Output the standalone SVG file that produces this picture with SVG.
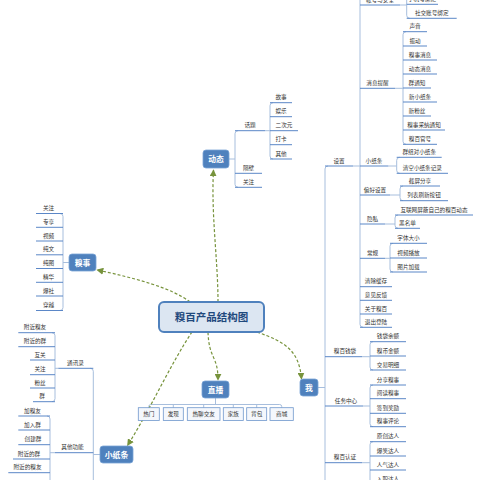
<svg xmlns="http://www.w3.org/2000/svg" width="480" height="480" viewBox="0 0 480 480">
<defs>
<style>
.t{font-family:"Noto Sans CJK SC","Noto Sans",sans-serif;font-size:5.6px;fill:#333;text-anchor:middle}
.u{stroke:#5b87c7;stroke-width:1;fill:none}
.c{stroke:#a7bedd;stroke-width:1;fill:none}
.nb{fill:#4f81bd;stroke:#7aa3d6;stroke-width:0.8}
.nt{font-family:"Noto Sans CJK SC","Noto Sans",sans-serif;font-size:7.8px;font-weight:bold;fill:#fff;text-anchor:middle}
.lb{fill:#f4f7fc;stroke:#6f97cc;stroke-width:0.8}
.e{stroke:#77933c;stroke-width:1.2;stroke-dasharray:3 2;fill:none;marker-end:url(#ah)}
</style>
<marker id="ah" viewBox="0 0 10 10" refX="9" refY="5" markerWidth="7" markerHeight="7" markerUnits="userSpaceOnUse" orient="auto"><path d="M0,0 L10,5 L0,10 z" fill="#77933c"/></marker>
</defs>
<rect width="480" height="480" fill="#fff"/>

<g id="tree-lines">
<!-- 动态 -->
<path class="c" d="M229,159 L235,159"/>
<path class="c" d="M238,130.7 Q235,130.7 235,133.7 L235,184.3 Q235,187.3 238,187.3"/>
<path class="c" d="M265,130.7 L270,130.7"/>
<path class="c" d="M273,102.7 Q270,102.7 270,105.7 L270,156 Q270,159 273,159"/>
<!-- 糗事 -->
<path class="c" d="M69,262.5 L63,262.5"/>
<path class="c" d="M60,213.5 Q63,213.5 63,216.5 L63,307.5 Q63,310.5 60,310.5"/>
<!-- 直播 -->
<path class="c" d="M215.5,398 L215.5,404.5"/>
<path class="c" d="M148.8,407.7 L148.8,406.5 Q148.8,404.5 150.8,404.5 L279.7,404.5 Q281.7,404.5 281.7,406.5 L281.7,407.7"/>
<path class="c" d="M173.3,404.5 V407.7 M203.7,404.5 V407.7 M233.3,404.5 V407.7 M256.7,404.5 V407.7"/>
<!-- 我 -->
<path class="c" d="M318,387.5 L325,387.5"/>
<path class="c" d="M328,166 Q325,166 325,169 L325,490"/>
<path class="c" d="M353,166 L360,166"/>
<path class="c" d="M360,-10 L360,324.3 Q360,327.3 363,327.3"/>
<path class="c" d="M400,5 L406.7,5"/>
<path class="c" d="M406.7,-10 L406.7,15.3 Q406.7,18.3 409.7,18.3"/>
<path class="c" d="M395,88.3 L403,88.3"/>
<path class="c" d="M406,31.7 Q403,31.7 403,34.7 L403,141.3 Q403,144.3 406,144.3"/>
<path class="c" d="M388.3,166 L396.7,166"/>
<path class="c" d="M399.7,157.3 Q396.7,157.3 396.7,160.3 L396.7,170.3 Q396.7,173.3 399.7,173.3"/>
<path class="c" d="M390,195 L400,195"/>
<path class="c" d="M403,186 Q400,186 400,189 L400,197.7 Q400,200.7 403,200.7"/>
<path class="c" d="M385,224 L395,224"/>
<path class="c" d="M398,215 Q395,215 395,218 L395,225.3 Q395,228.3 398,228.3"/>
<path class="c" d="M385,258.3 L390,258.3"/>
<path class="c" d="M393,243.3 Q390,243.3 390,246.3 L390,269 Q390,272 393,272"/>
<path class="c" d="M362,356.7 L370,356.7"/>
<path class="c" d="M373,341.7 Q370,341.7 370,344.7 L370,367 Q370,370 373,370"/>
<path class="c" d="M363,406 L370,406"/>
<path class="c" d="M373,385 Q370,385 370,388 L370,423.7 Q370,426.7 373,426.7"/>
<path class="c" d="M362,462.7 L370,462.7"/>
<path class="c" d="M373,441.7 Q370,441.7 370,444.7 L370,490"/>
<!-- 小纸条 -->
<path class="c" d="M100,454.5 L93.3,454.5"/>
<path class="c" d="M90.3,368.3 Q93.3,368.3 93.3,371.3 L93.3,490"/>
<path class="c" d="M58.3,368.3 L55,368.3"/>
<path class="c" d="M52,332.7 Q55,332.7 55,335.7 L55,398.7 Q55,401.7 52,401.7"/>
<path class="c" d="M55,452.7 L50,452.7"/>
<path class="c" d="M47,416 Q50,416 50,419 L50,490"/>
</g>

<g id="connectors">
<path class="e" d="M218,302 C218,260 211,215 213.5,170"/>
<path class="e" d="M190,302 C172,288 135,278 97,270"/>
<path class="e" d="M208,332 C209,360 218,355 218,380"/>
<path class="e" d="M257,332 C285,342 299,350 301.5,379"/>
<path class="e" d="M192,332 C170,365 150,410 127.5,445.5"/>
</g>

<g id="root">
<rect x="159" y="302" width="105" height="30" rx="5" fill="#dce6f2" stroke="#4f81bd" stroke-width="2"/>
<text x="211.5" y="320.8" style="font-family:'Noto Sans CJK SC','Noto Sans',sans-serif;font-size:10.5px;font-weight:bold;fill:#1f497d;text-anchor:middle">糗百产品结构图</text>
</g>

<g id="dongtai">
<rect class="nb" x="203" y="150" width="26" height="18" rx="3"/>
<text class="nt" x="216" y="162">动态</text>
</g>
<g id="dt-huati"><line class="u" x1="235" y1="130.7" x2="265" y2="130.7"/><text class="t" x="250" y="127.2">话题</text></g>
<g id="dt-gushi"><line class="u" x1="270" y1="102.7" x2="292" y2="102.7"/><text class="t" x="281" y="99.2">故事</text></g>
<g id="dt-yule"><line class="u" x1="270" y1="116.7" x2="292" y2="116.7"/><text class="t" x="281" y="113.2">娱乐</text></g>
<g id="dt-erciyuan"><line class="u" x1="270" y1="130.7" x2="298" y2="130.7"/><text class="t" x="284" y="127.2">二次元</text></g>
<g id="dt-daka"><line class="u" x1="270" y1="144.7" x2="292" y2="144.7"/><text class="t" x="281" y="141.2">打卡</text></g>
<g id="dt-qita"><line class="u" x1="270" y1="159" x2="292" y2="159"/><text class="t" x="281" y="155.5">其他</text></g>
<g id="dt-gebi"><line class="u" x1="235" y1="173.3" x2="262" y2="173.3"/><text class="t" x="248.5" y="169.8">隔壁</text></g>
<g id="dt-guanzhu"><line class="u" x1="235" y1="187.3" x2="262" y2="187.3"/><text class="t" x="248.5" y="183.8">关注</text></g>

<g id="qiushi">
<rect class="nb" x="69" y="254" width="27" height="17" rx="3"/>
<text class="nt" x="82.5" y="265.5">糗事</text>
</g>
<g id="qs-1"><line class="u" x1="36" y1="213.5" x2="63" y2="213.5"/><text class="t" x="48.5" y="210">关注</text></g>
<g id="qs-2"><line class="u" x1="36" y1="227.3" x2="63" y2="227.3"/><text class="t" x="48.5" y="223.8">专享</text></g>
<g id="qs-3"><line class="u" x1="36" y1="241" x2="63" y2="241"/><text class="t" x="48.5" y="237.5">视频</text></g>
<g id="qs-4"><line class="u" x1="36" y1="254.8" x2="63" y2="254.8"/><text class="t" x="48.5" y="251.3">纯文</text></g>
<g id="qs-5"><line class="u" x1="36" y1="268.5" x2="63" y2="268.5"/><text class="t" x="48.5" y="265">纯图</text></g>
<g id="qs-6"><line class="u" x1="36" y1="282.3" x2="63" y2="282.3"/><text class="t" x="48.5" y="278.8">精华</text></g>
<g id="qs-7"><line class="u" x1="36" y1="296" x2="63" y2="296"/><text class="t" x="48.5" y="292.5">爆社</text></g>
<g id="qs-8"><line class="u" x1="36" y1="310.5" x2="63" y2="310.5"/><text class="t" x="48.5" y="307">穿越</text></g>

<g id="zhibo">
<rect class="nb" x="202" y="381" width="27" height="17" rx="3"/>
<text class="nt" x="215.5" y="392.5">直播</text>
</g>
<g id="zb-1"><rect class="lb" x="138.3" y="407.7" width="21" height="12.8"/><text class="t" x="148.8" y="416.2">热门</text></g>
<g id="zb-2"><rect class="lb" x="163.3" y="407.7" width="20" height="12.8"/><text class="t" x="173.3" y="416.2">发现</text></g>
<g id="zb-3"><rect class="lb" x="187.3" y="407.7" width="32.7" height="12.8"/><text class="t" x="203.7" y="416.2">热聊交友</text></g>
<g id="zb-4"><rect class="lb" x="223.3" y="407.7" width="20" height="12.8"/><text class="t" x="233.3" y="416.2">家族</text></g>
<g id="zb-5"><rect class="lb" x="246.7" y="407.7" width="20" height="12.8"/><text class="t" x="256.7" y="416.2">背包</text></g>
<g id="zb-6"><rect class="lb" x="270" y="407.7" width="23.3" height="12.8"/><text class="t" x="281.7" y="416.2">商城</text></g>

<g id="wo">
<rect class="nb" x="300" y="379" width="18" height="17" rx="3"/>
<text class="nt" x="309" y="390.5">我</text>
</g>
<g id="wo-shezhi"><line class="u" x1="325" y1="166" x2="353" y2="166"/><text class="t" x="339" y="162.5">设置</text></g>
<g id="wo-qiandai"><line class="u" x1="325" y1="356.7" x2="362" y2="356.7"/><text class="t" x="345" y="353.2">糗百钱袋</text></g>
<g id="wo-renwu"><line class="u" x1="325" y1="406" x2="363" y2="406"/><text class="t" x="346" y="402.5">任务中心</text></g>
<g id="wo-renzheng"><line class="u" x1="325" y1="462.7" x2="362" y2="462.7"/><text class="t" x="345" y="459.2">糗百认证</text></g>

<g id="sz-zhanghao"><line class="u" x1="360" y1="5" x2="400" y2="5"/><text class="t" x="380" y="1.5">帐号与安全</text></g>
<g id="sz-zh-1"><line class="u" x1="406.7" y1="4.3" x2="438" y2="4.3"/><text class="t" x="422" y="0.8">手机号绑定</text></g>
<g id="sz-zh-2"><line class="u" x1="406.7" y1="18.3" x2="456.7" y2="18.3"/><text class="t" x="431.7" y="14.8">社交账号绑定</text></g>
<g id="sz-xiaoxi"><line class="u" x1="360" y1="88.3" x2="395" y2="88.3"/><text class="t" x="377.5" y="84.8">消息提醒</text></g>
<g id="xx-1"><line class="u" x1="403" y1="31.7" x2="427" y2="31.7"/><text class="t" x="415" y="28.2">声音</text></g>
<g id="xx-2"><line class="u" x1="403" y1="46" x2="427" y2="46"/><text class="t" x="415" y="42.5">振动</text></g>
<g id="xx-3"><line class="u" x1="403" y1="60" x2="437" y2="60"/><text class="t" x="420" y="56.5">糗事消息</text></g>
<g id="xx-4"><line class="u" x1="403" y1="74" x2="437" y2="74"/><text class="t" x="420" y="70.5">动态消息</text></g>
<g id="xx-5"><line class="u" x1="403" y1="88" x2="431" y2="88"/><text class="t" x="417" y="84.5">群通知</text></g>
<g id="xx-6"><line class="u" x1="403" y1="102" x2="437" y2="102"/><text class="t" x="420" y="98.5">新小纸条</text></g>
<g id="xx-7"><line class="u" x1="403" y1="116" x2="431" y2="116"/><text class="t" x="417" y="112.5">新粉丝</text></g>
<g id="xx-8"><line class="u" x1="403" y1="130" x2="445" y2="130"/><text class="t" x="424" y="126.5">糗事采纳通知</text></g>
<g id="xx-9"><line class="u" x1="403" y1="144.3" x2="437" y2="144.3"/><text class="t" x="420" y="140.8">糗百官号</text></g>
<g id="sz-xiaozhitiao"><line class="u" x1="360" y1="166" x2="388.3" y2="166"/><text class="t" x="374" y="162.5">小纸条</text></g>
<g id="xz-1"><line class="u" x1="396.7" y1="157.3" x2="441.7" y2="157.3"/><text class="t" x="419.2" y="153.8">群组对小纸条</text></g>
<g id="xz-2"><line class="u" x1="396.7" y1="173.3" x2="448" y2="173.3"/><text class="t" x="422.3" y="169.8">清空小纸条记录</text></g>
<g id="sz-pianhao"><line class="u" x1="360" y1="195" x2="390" y2="195"/><text class="t" x="375" y="191.5">偏好设置</text></g>
<g id="ph-1"><line class="u" x1="400" y1="186" x2="440" y2="186"/><text class="t" x="420" y="182.5">截屏分享</text></g>
<g id="ph-2"><line class="u" x1="400" y1="200.7" x2="448" y2="200.7"/><text class="t" x="424" y="197.2">列表刷新按钮</text></g>
<g id="sz-yinsi"><line class="u" x1="360" y1="224" x2="385" y2="224"/><text class="t" x="372.5" y="220.5">隐私</text></g>
<g id="ys-1"><line class="u" x1="395" y1="215" x2="473" y2="215"/><text class="t" x="434" y="211.5">互联网屏蔽自己的糗百动态</text></g>
<g id="ys-2"><line class="u" x1="395" y1="228.3" x2="420" y2="228.3"/><text class="t" x="407.5" y="224.8">黑名单</text></g>
<g id="sz-changgui"><line class="u" x1="360" y1="258.3" x2="385" y2="258.3"/><text class="t" x="372.5" y="254.8">常规</text></g>
<g id="cg-1"><line class="u" x1="390" y1="243.3" x2="427" y2="243.3"/><text class="t" x="408.5" y="239.8">字体大小</text></g>
<g id="cg-2"><line class="u" x1="390" y1="258" x2="427" y2="258"/><text class="t" x="408.5" y="254.5">视频播放</text></g>
<g id="cg-3"><line class="u" x1="390" y1="272" x2="427" y2="272"/><text class="t" x="408.5" y="268.5">图片加载</text></g>
<g id="sz-qingchu"><line class="u" x1="360" y1="286.7" x2="392" y2="286.7"/><text class="t" x="376" y="283.2">清除缓存</text></g>
<g id="sz-yijian"><line class="u" x1="360" y1="300.3" x2="392" y2="300.3"/><text class="t" x="376" y="296.8">意见反馈</text></g>
<g id="sz-guanyu"><line class="u" x1="360" y1="314" x2="392" y2="314"/><text class="t" x="376" y="310.5">关于糗百</text></g>
<g id="sz-tuichu"><line class="u" x1="360" y1="327.3" x2="392" y2="327.3"/><text class="t" x="376" y="323.8">退出登陆</text></g>

<g id="qd-1"><line class="u" x1="370" y1="341.7" x2="406" y2="341.7"/><text class="t" x="388" y="338.2">钱袋余额</text></g>
<g id="qd-2"><line class="u" x1="370" y1="356" x2="406" y2="356"/><text class="t" x="388" y="352.5">糗币金额</text></g>
<g id="qd-3"><line class="u" x1="370" y1="370" x2="406" y2="370"/><text class="t" x="388" y="366.5">交易明细</text></g>
<g id="rw-1"><line class="u" x1="370" y1="385" x2="406" y2="385"/><text class="t" x="388" y="381.5">分享糗事</text></g>
<g id="rw-2"><line class="u" x1="370" y1="398.7" x2="406" y2="398.7"/><text class="t" x="388" y="395.2">阅读糗事</text></g>
<g id="rw-3"><line class="u" x1="370" y1="413.3" x2="406" y2="413.3"/><text class="t" x="388" y="409.8">签到奖励</text></g>
<g id="rw-4"><line class="u" x1="370" y1="426.7" x2="406" y2="426.7"/><text class="t" x="388" y="423.2">糗事评论</text></g>
<g id="rz-1"><line class="u" x1="370" y1="441.7" x2="406" y2="441.7"/><text class="t" x="388" y="438.2">原创达人</text></g>
<g id="rz-2"><line class="u" x1="370" y1="456" x2="406" y2="456"/><text class="t" x="388" y="452.5">爆笑达人</text></g>
<g id="rz-3"><line class="u" x1="370" y1="470" x2="406" y2="470"/><text class="t" x="388" y="466.5">人气达人</text></g>
<g id="rz-4"><line class="u" x1="370" y1="484" x2="406" y2="484"/><text class="t" x="388" y="480.5">入职达人</text></g>

<g id="xiaozhitiao">
<rect class="nb" x="100" y="446" width="33" height="17" rx="3"/>
<text class="nt" x="116.5" y="457.5">小纸条</text>
</g>
<g id="xzt-tongxunlu"><line class="u" x1="58.3" y1="368.3" x2="93.3" y2="368.3"/><text class="t" x="75.5" y="364.8">通讯录</text></g>
<g id="xzt-qita"><line class="u" x1="55" y1="452.7" x2="93.3" y2="452.7"/><text class="t" x="72.5" y="449.2">其他功能</text></g>
<g id="tx-1"><line class="u" x1="18.3" y1="332.7" x2="55" y2="332.7"/><text class="t" x="35" y="329.2">附近糗友</text></g>
<g id="tx-2"><line class="u" x1="18.3" y1="346.7" x2="55" y2="346.7"/><text class="t" x="35" y="343.2">附近的群</text></g>
<g id="tx-3"><line class="u" x1="30" y1="360" x2="55" y2="360"/><text class="t" x="40" y="356.5">互关</text></g>
<g id="tx-4"><line class="u" x1="30" y1="374.7" x2="55" y2="374.7"/><text class="t" x="40" y="371.2">关注</text></g>
<g id="tx-5"><line class="u" x1="30" y1="388" x2="55" y2="388"/><text class="t" x="40" y="384.5">粉丝</text></g>
<g id="tx-6"><line class="u" x1="33" y1="401.7" x2="55" y2="401.7"/><text class="t" x="42" y="398.2">群</text></g>
<g id="qt-1"><line class="u" x1="18.3" y1="416" x2="50" y2="416"/><text class="t" x="32.5" y="412.5">加糗友</text></g>
<g id="qt-2"><line class="u" x1="18.3" y1="430" x2="50" y2="430"/><text class="t" x="32.5" y="426.5">加入群</text></g>
<g id="qt-3"><line class="u" x1="18.3" y1="444.7" x2="50" y2="444.7"/><text class="t" x="33" y="441.2">创建群</text></g>
<g id="qt-4"><line class="u" x1="13" y1="459" x2="50" y2="459"/><text class="t" x="29" y="455.5">附近的群</text></g>
<g id="qt-5"><line class="u" x1="8.3" y1="472.7" x2="50" y2="472.7"/><text class="t" x="27.5" y="469.2">附近的糗友</text></g>
</svg>
